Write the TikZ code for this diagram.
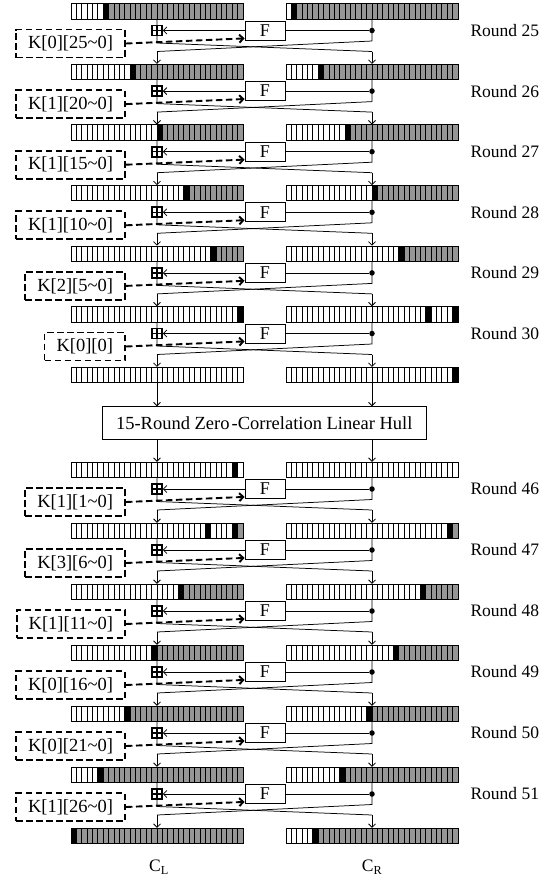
\documentclass[tikz,border=0pt]{standalone}
\usepackage{fontspec}
\setmainfont{Liberation Serif}
\usetikzlibrary{arrows.meta}
\definecolor{cellgray}{RGB}{150,150,150}
\newcommand{\register}[3]{%
    \foreach \s/\e/\col in {#3}{
        \foreach \i in {\s,...,\e}{
            \draw[cell,fill=\col] ({#1+\i*\cw},#2) rectangle ++(\cw,\rh);
        }
    }%
}
\begin{document}
\begin{tikzpicture}[x=1pt,y=-1pt]
    \tikzset{cell/.style = {draw=black,line width=0.8pt}, regbox/.style = {minimum width=172pt,minimum height=15.5pt,inner sep=0pt},
        fbox/.style = {draw,line width=0.8pt,fill=white,minimum width=40pt,minimum height=19pt,inner sep=0pt,font=\fontsize{18}{18}\selectfont},
        xorbox/.style = {draw,line width=1.7pt,fill=white,minimum size=10pt,inner sep=0pt,path picture={\draw[line width=1.4pt] (path picture bounding box.north) -- (path picture bounding box.south) (path picture bounding box.west) -- (path picture bounding box.east);}},
        keybox/.style = {draw,line width=1.9pt,dash pattern=on 6.5pt off 3.5pt,inner xsep=12pt,minimum height=28pt,anchor=east,font=\fontsize{18.5}{19}\selectfont},
        dotc/.style = {circle,fill,inner sep=0pt,minimum size=5.5pt},
        wire/.style = {line width=0.75pt}, arr/.style = {wire,-{Straight Barb[length=3.5pt,width=7pt]}},
        keyarr/.style = {line width=1.9pt,dash pattern=on 6.5pt off 3.5pt,-{Straight Barb[length=4pt,width=8pt]}},
        rlabel/.style = {anchor=west,font=\fontsize{17.5}{18}\selectfont}}
    \useasboundingbox (0,0) rectangle (552,879);
    \def\cw{5.375}
    \def\rh{15.5}
    \register{71}{3.5}{0/5/white,6/6/black,7/31/cellgray}
    \register{286}{3.5}{0/0/white,1/1/black,2/31/cellgray}
    \register{71}{64.1}{0/10/white,11/11/black,12/31/cellgray}
    \register{286}{64.1}{0/5/white,6/6/black,7/31/cellgray}
    \register{71}{124.7}{0/15/white,16/16/black,17/31/cellgray}
    \register{286}{124.7}{0/10/white,11/11/black,12/31/cellgray}
    \register{71}{185.3}{0/20/white,21/21/black,22/31/cellgray}
    \register{286}{185.3}{0/15/white,16/16/black,17/31/cellgray}
    \register{71}{245.9}{0/25/white,26/26/black,27/31/cellgray}
    \register{286}{245.9}{0/20/white,21/21/black,22/31/cellgray}
    \register{71}{306.5}{0/30/white,31/31/black}
    \register{286}{306.5}{0/25/white,26/26/black,27/30/white,31/31/black}
    \register{71}{367.1}{0/31/white}
    \register{286}{367.1}{0/30/white,31/31/black}
    \register{71}{462}{0/29/white,30/30/black,31/31/white}
    \register{286}{462}{0/31/white}
    \register{71}{523}{0/24/white,25/25/black,26/29/white,30/30/black,31/31/cellgray}
    \register{286}{523}{0/29/white,30/30/black,31/31/cellgray}
    \register{71}{584}{0/19/white,20/20/black,21/31/cellgray}
    \register{286}{584}{0/24/white,25/25/black,26/31/cellgray}
    \register{71}{645}{0/14/white,15/15/black,16/31/cellgray}
    \register{286}{645}{0/19/white,20/20/black,21/31/cellgray}
    \register{71}{706}{0/9/white,10/10/black,11/31/cellgray}
    \register{286}{706}{0/14/white,15/15/black,16/31/cellgray}
    \register{71}{767}{0/4/white,5/5/black,6/31/cellgray}
    \register{286}{767}{0/9/white,10/10/black,11/31/cellgray}
    \register{71}{828}{0/0/black,1/31/cellgray}
    \register{286}{828}{0/4/white,5/5/black,6/31/cellgray}
    \foreach \n/\yy in {0/3.5,1/64.1,2/124.7,3/185.3,4/245.9,5/306.5,6/367.1,7/462,8/523,9/584,10/645,11/706,12/767,13/828}{
        \node[regbox] (L\n) at (157,\yy+7.75) {};
        \node[regbox] (R\n) at (372,\yy+7.75) {};
        \draw[wire] (L\n.north) -- (L\n.south);
        \draw[wire] (R\n.north) -- (R\n.south);
    }
    \foreach \n/\yy/\key/\rnd [evaluate=\n as \m using int(\n+1)] in {0/3.5/{K[0][25\textasciitilde0]}/25,1/64.1/{K[1][20\textasciitilde0]}/26,2/124.7/{K[1][15\textasciitilde0]}/27,3/185.3/{K[1][10\textasciitilde0]}/28,4/245.9/{K[2][5\textasciitilde0]}/29,5/306.5/{K[0][0]}/30,
        7/462/{K[1][1\textasciitilde0]}/46,8/523/{K[3][6\textasciitilde0]}/47,9/584/{K[1][11\textasciitilde0]}/48,10/645/{K[0][16\textasciitilde0]}/49,11/706/{K[0][21\textasciitilde0]}/50,12/767/{K[1][26\textasciitilde0]}/51}{
        \coordinate (a\n) at (157,\yy+39.5);
        \coordinate (b\n) at (372,\yy+37.5);
        \coordinate (c\n) at (157,\yy+48);
        \coordinate (e\n) at (372,\yy+48);
        \draw[wire] (L\n.south) -- (a\n) -- (e\n);
        \draw[wire] (R\n.south) -- (b\n) -- (c\n);
        \draw[arr] (c\n) -- (L\m.north);
        \draw[arr] (e\n) -- (R\m.north);
        \node[xorbox] (X\n) at (157,\yy+27) {};
        \node[fbox] (F\n) at (265,\yy+27) {F};
        \node[dotc] (D\n) at (372,\yy+27) {};
        \node[keybox] (K\n) at (126,\yy+40) {\key};
        \node[rlabel] (T\n) at (467,\yy+27) {Round \rnd};
        \draw[wire] (D\n) -- (F\n.east);
        \draw[arr] (F\n.west) -- (X\n.east);
        \draw[keyarr] (K\n.east) -- ([yshift=2pt]F\n.south west);
    }
    \node[draw,line width=0.8pt,minimum width=323.5pt,minimum height=32.6pt,inner sep=0pt,font=\fontsize{18.5}{19}\selectfont] (H) at (264.25,423) {15-Round Zero\kern2pt-Correlation Linear Hull};
    \draw[arr] (L6.south) -- (L6.south |- H.north);
    \draw[arr] (R6.south) -- (R6.south |- H.north);
    \draw[arr] (L7.north |- H.south) -- (L7.north);
    \draw[arr] (R7.north |- H.south) -- (R7.north);
    \node[font=\fontsize{17.5}{18}\selectfont] (CL) at (159,867) {C\textsubscript{L}};
    \node[font=\fontsize{17.5}{18}\selectfont] (CR) at (372,867) {C\textsubscript{R}};
\end{tikzpicture}
\end{document}
